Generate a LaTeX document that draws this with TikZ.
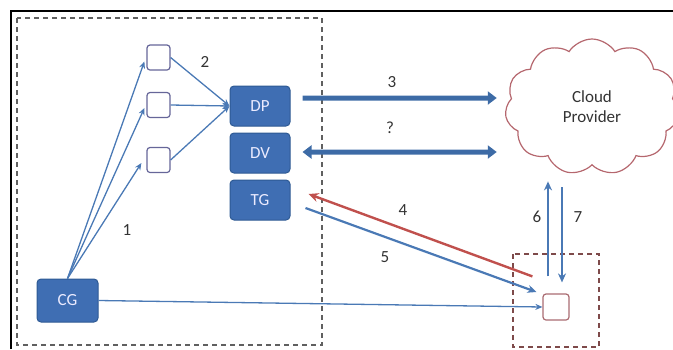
\documentclass[tikz,border=0pt]{standalone}
\usepackage{fontspec}
\setmainfont{Carlito}
\usetikzlibrary{shapes.symbols,arrows.meta,calc}
\definecolor{boxblue}{HTML}{3F6EB3}
\definecolor{boxedge}{HTML}{2E5A94}
\definecolor{arrblue}{HTML}{4A79B5}
\definecolor{thickblue}{HTML}{3D6BA6}
\definecolor{redarr}{HTML}{C0504D}
\definecolor{cloudred}{HTML}{B5676E}
\definecolor{dashred}{HTML}{7E4A4A}
\definecolor{lbl}{HTML}{333333}
\tikzset{
  bluebox/.style={draw=boxedge,line width=1pt,fill=boxblue,rounded corners=4pt,
    minimum width=60pt,minimum height=40pt,text=white!92!blue,font=\fontsize{17}{19}\selectfont},
  smallbox/.style={draw=gray!80!blue,line width=1.2pt,fill=white,rounded corners=3pt,
    minimum width=23pt,minimum height=25pt,inner sep=0pt},
  thinarr/.style={draw=arrblue,line width=1.3pt,-{Stealth[length=7pt,width=6pt]}},
  midarr/.style={draw=arrblue,line width=2.2pt,-{Stealth[length=9pt,width=8pt]}},
  fatarr/.style={draw=thickblue,line width=5pt,-{Triangle[length=9pt,width=13pt]}},
  lab/.style={text=lbl,font=\fontsize{17}{19}\selectfont}
}
\begin{document}
\begin{tikzpicture}[x=1pt,y=-1pt]
\useasboundingbox (0,0) rectangle (673,349);
\clip (0,0) rectangle (673,349);
% outer frame (top and left)
\draw[black,line width=2.5pt] (11,349) -- (11,11) -- (673,11);
% dashed regions
\draw[gray!75!black,line width=1.2pt,dash pattern=on 5pt off 4pt] (17,18) rectangle (322,345);
\draw[dashred,line width=1.5pt,dash pattern=on 5pt off 4pt] (513,254) rectangle (599,347);
% nodes
\node[smallbox] (b1) at (158.5,57.5) {};
\node[smallbox] (b2) at (158.5,105) {};
\node[smallbox] (b3) at (158.5,160) {};
\node[bluebox] (DP) at (260,106) {DP};
\node[bluebox] (DV) at (260,153) {DV};
\node[bluebox] (TG) at (260,200) {TG};
\node[bluebox,minimum width=61pt,minimum height=43pt] (CG) at (67.5,300.5) {CG};
\node[cloud,draw=cloudred,line width=1.2pt,cloud puffs=11,cloud puff arc=115,
  minimum width=174pt,minimum height=136pt,align=center,text=lbl,
  font=\fontsize{17}{20}\selectfont] (cloud) at (592,107) {Cloud\\Provider};
\node[smallbox,draw=cloudred!80!gray,minimum width=26pt,minimum height=26pt] (sbox) at (556,307) {};
% CG to small boxes
\draw[thinarr] (CG.north) -- ($(b1.west)+(-2,4)$);
\draw[thinarr] (CG.north) -- ($(b2.west)+(-2,3)$);
\draw[thinarr] (CG.north) -- ($(b3.west)+(-5,3)$);
% small boxes to DP
\draw[thinarr] (b1.east) -- (DP.west);
\draw[thinarr] (b2.east) -- (DP.west);
\draw[thinarr] (b3.east) -- (DP.west);
% big arrows
\draw[fatarr] ($(DP.east)+(12,-8)$) -- ($(cloud.west)+(-9,-9)$);
\draw[fatarr,{Triangle[length=9pt,width=13pt]}-{Triangle[length=9pt,width=13pt]}] ($(DV.east)+(12,-1)$) -- ($(cloud.west)+(-9,45)$);
% 4 and 5
\draw[draw=redarr,line width=2.4pt,-{Stealth[length=10pt,width=9pt]}] ($(sbox.north west)+(-10,-17)$) -- ($(TG.east)+(18,-6)$);
\draw[midarr] ($(TG.east)+(15,8)$) -- ($(sbox.west)+(-6,-15)$);
% CG to sbox
\draw[thinarr] (CG.east) -- (sbox.west);
% 6 and 7
\draw[midarr] ($(sbox.north)+(-8,-17)$) -- ($(sbox.north)+(-8,-112)$);
\draw[midarr] ($(sbox.north)+(6,-106)$) -- ($(sbox.north)+(6,-11)$);
% labels
\node[lab] (l1) at (127,230) {1};
\node[lab] (l2) at (205,62) {2};
\node[lab] (l3) at (392,82) {3};
\node[lab] (lq) at (390,128) {?};
\node[lab] (l4) at (403,210) {4};
\node[lab] (l5) at (385,257) {5};
\node[lab] (l6) at (537,217) {6};
\node[lab] (l7) at (578,217) {7};
\end{tikzpicture}
\end{document}
